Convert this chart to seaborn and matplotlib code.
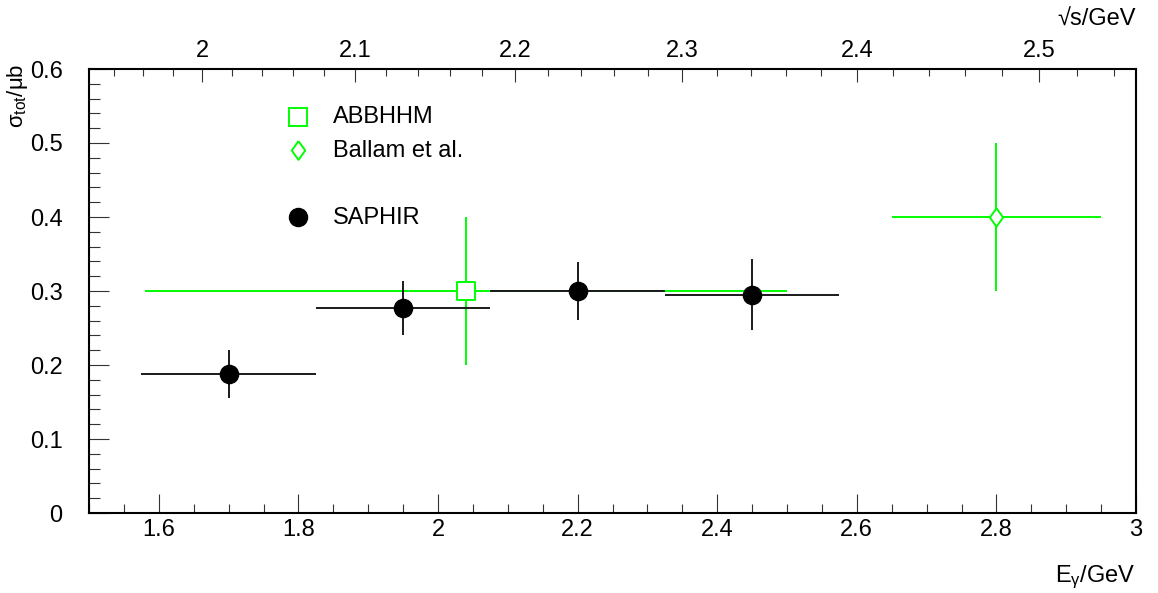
import numpy as np
import matplotlib
matplotlib.use("Agg")
import matplotlib.pyplot as plt
import seaborn as sns
from matplotlib.ticker import MultipleLocator, FixedLocator, FuncFormatter

# SAPHIR data
saphir_e = [1.70, 1.95, 2.20, 2.45]
saphir_ex = [0.125, 0.125, 0.125, 0.125]
saphir_sig = [0.188, 0.277, 0.300, 0.295]
saphir_err = [0.032, 0.036, 0.039, 0.048]

# ABBHHM
abbhhm_e = [2.04]
abbhhm_lo = [0.46]
abbhhm_hi = [0.46]
abbhhm_sig = [0.30]
abbhhm_err = [0.10]

# Ballam et al.
ballam_e = [2.80]
ballam_ex = [0.15]
ballam_sig = [0.40]
ballam_err = [0.10]

sqrt_s_ticks = [2.0, 2.1, 2.2, 2.3, 2.4, 2.5]

MP = 0.938272
GREEN = "#00ff00"
FS = 17
# open diamond like ROOT's marker 27
DIAMOND = [(0, 1), (0.72, 0), (0, -1), (-0.72, 0), (0, 1)]


def e_to_w(e):
    e = np.asarray(e, dtype=float)
    return np.sqrt(np.clip(MP**2 + 2 * MP * e, 0, None))


def w_to_e(w):
    w = np.asarray(w, dtype=float)
    return (w**2 - MP**2) / (2 * MP)


def fmt(v, p):
    return f"{v:g}"


sns.set_style("white")
plt.rcParams["font.family"] = ["Liberation Sans", "DejaVu Sans"]
plt.rcParams["mathtext.fontset"] = "custom"
plt.rcParams["mathtext.rm"] = "Liberation Sans"
plt.rcParams["mathtext.it"] = "Liberation Sans"
plt.rcParams["text.color"] = "black"
plt.rcParams["xtick.color"] = "#333333"
plt.rcParams["ytick.color"] = "#333333"
plt.rcParams["xtick.labelcolor"] = "black"
plt.rcParams["ytick.labelcolor"] = "black"

fig = plt.figure(figsize=(11.58, 5.93), dpi=100)
ax = fig.add_axes([89 / 1158, 80 / 593, 1047 / 1158, 444 / 593])

# error bars
ax.errorbar(saphir_e, saphir_sig, xerr=saphir_ex, yerr=saphir_err, fmt="none",
            ecolor="#1a1a1a", elinewidth=1.4, capsize=0, zorder=2)
ax.errorbar(abbhhm_e, abbhhm_sig, xerr=[abbhhm_lo, abbhhm_hi], yerr=abbhhm_err,
            fmt="none", ecolor=GREEN, elinewidth=1.4, capsize=0, zorder=1)
ax.errorbar(ballam_e, ballam_sig, xerr=ballam_ex, yerr=ballam_err, fmt="none",
            ecolor=GREEN, elinewidth=1.4, capsize=0, zorder=1)

# markers
sns.scatterplot(x=saphir_e, y=saphir_sig, ax=ax, marker="o", s=170,
                color="black", edgecolor="black", zorder=4)
sns.scatterplot(x=abbhhm_e, y=abbhhm_sig, ax=ax, marker="s", s=180,
                facecolor="white", edgecolor=GREEN, linewidth=1.4, zorder=3)
sns.scatterplot(x=ballam_e, y=ballam_sig, ax=ax, marker=DIAMOND, s=175,
                facecolor="white", edgecolor=GREEN, linewidth=1.4, zorder=3)

ax.set_xlim(1.5, 3.0)
ax.set_ylim(0, 0.6)
ax.set_xlabel("")
ax.set_ylabel("")

ax.xaxis.set_major_locator(MultipleLocator(0.2))
ax.xaxis.set_minor_locator(MultipleLocator(0.05))
ax.yaxis.set_major_locator(MultipleLocator(0.1))
ax.yaxis.set_minor_locator(MultipleLocator(0.02))
ax.xaxis.set_major_formatter(FuncFormatter(fmt))
ax.yaxis.set_major_formatter(FuncFormatter(fmt))

ax.tick_params(axis="x", which="major", direction="in", length=13.5, width=0.8,
               labelsize=FS, pad=4, bottom=True, top=False)
ax.tick_params(axis="x", which="minor", direction="in", length=6.5, width=0.8,
               bottom=True, top=False)
ax.tick_params(axis="y", which="major", direction="in", length=14.5, width=0.8,
               labelsize=FS, pad=19, left=True, right=False)
ax.tick_params(axis="y", which="minor", direction="in", length=8, width=0.8,
               left=True, right=False)

for sp in ax.spines.values():
    sp.set_visible(True)
    sp.set_linewidth(1.5)
    sp.set_color("black")

# top axis in sqrt(s)
top = ax.secondary_xaxis("top", functions=(e_to_w, w_to_e))
top.xaxis.set_major_locator(FixedLocator(sqrt_s_ticks))
top.xaxis.set_minor_locator(MultipleLocator(0.02))
top.xaxis.set_major_formatter(FuncFormatter(fmt))
top.tick_params(axis="x", which="major", direction="in", length=9.5, width=0.8,
                labelsize=FS, pad=5, top=True)
top.tick_params(axis="x", which="minor", direction="in", length=5, width=0.8, top=True)
top.spines["top"].set_visible(False)

# legend drawn by hand
leg_x = 298 / 1158
txt_x = 333 / 1158
ax_leg = fig.add_axes([0, 0, 1, 1], facecolor="none")
ax_leg.set_axis_off()
ax_leg.set_xlim(0, 1)
ax_leg.set_ylim(0, 1)
ax_leg.plot([leg_x], [1 - 117 / 593], marker="s", ms=13.5, mfc="white", mec=GREEN, mew=1.4, ls="none")
ax_leg.plot([leg_x], [1 - 150 / 593], marker=DIAMOND, ms=13.5, mfc="white", mec=GREEN, mew=1.4, ls="none")
ax_leg.plot([leg_x], [1 - 217 / 593], marker="o", ms=13, color="black", ls="none")
ax_leg.text(txt_x, 1 - 117 / 593, "ABBHHM", fontsize=FS, va="center", ha="left")
ax_leg.text(txt_x, 1 - 151 / 593, "Ballam et al.", fontsize=FS, va="center", ha="left")
ax_leg.text(txt_x, 1 - 218 / 593, "SAPHIR", fontsize=FS, va="center", ha="left")

# axis titles
fig.text(1136 / 1158, 1 - 577 / 593, "E$_{\\gamma}$/GeV", fontsize=FS, ha="right", va="center")
fig.text(1136 / 1158, 1 - 20 / 593, "\u221as/GeV", fontsize=FS, ha="right", va="center")
fig.text(17 / 1158, 1 - 64 / 593, "\u03c3$_{\\mathrm{tot}}$/\u03bcb",
         fontsize=FS - 1, rotation=90, ha="center", va="top")

fig.savefig("out.png", dpi=100)
